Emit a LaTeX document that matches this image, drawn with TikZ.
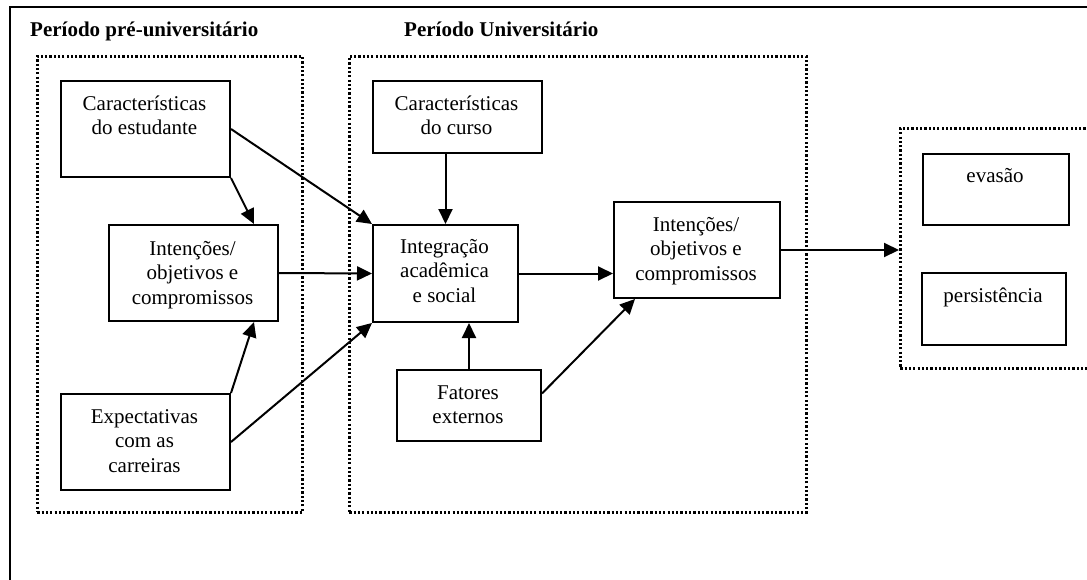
\documentclass[tikz,border=0pt]{standalone}
\usepackage{fontspec}
\setmainfont{Liberation Serif}
\usetikzlibrary{arrows.meta}
\begin{document}
\begin{tikzpicture}[x=1pt,y=-1pt,
 box/.style={draw, line width=2pt, inner sep=0pt, anchor=north west},
 zone/.style={draw, line width=2.6pt, dash pattern=on 2.2pt off 2.1pt, inner sep=0pt, anchor=north west},
 txt/.style={font=\fontsize{21}{24.5}\selectfont, align=center, anchor=base, inner sep=0pt},
 ttl/.style={font=\fontsize{21}{24.5}\selectfont\bfseries, anchor=base west, inner sep=0pt},
 arr/.style={line width=2pt, -{Triangle[length=15pt,width=14pt]}}]
\clip (0,0) rectangle (1087,579);
\fill[white] (0,0) rectangle (1087,579);
\node[draw, line width=2pt, minimum width=1100pt, minimum height=620pt, inner sep=0pt, anchor=north west] (frame) at (9,6) {};
% titles
\node[ttl] (t1) at (30,36) {Período pré-universitário};
\node[ttl] (t2) at (404,36) {Período Universitário};
% zones
\node[zone, minimum width=265pt, minimum height=456pt] (z1) at (36,55) {};
\node[zone, minimum width=457pt, minimum height=456pt] (z2) at (348,55) {};
\node[zone, minimum width=250pt, minimum height=240pt] (z3) at (899,127) {};
% boxes
\node[box, minimum width=169pt, minimum height=96pt] (ce) at (60,80) {};
\node[box, minimum width=169pt, minimum height=96pt] (i1) at (108,224) {};
\node[box, minimum width=169pt, minimum height=96pt] (ex) at (60,393) {};
\node[box, minimum width=169pt, minimum height=72pt] (cc) at (372,80) {};
\node[box, minimum width=145pt, minimum height=97pt] (ia) at (372,224) {};
\node[box, minimum width=144pt, minimum height=71pt] (fa) at (396,369) {};
\node[box, minimum width=166pt, minimum height=96pt] (i2) at (613,201) {};
\node[box, minimum width=146pt, minimum height=71pt] (ev) at (922,153) {};
\node[box, minimum width=144pt, minimum height=72pt] (pe) at (921,272) {};
% texts (anchor base = baseline of last line)
\node[txt] (tce) at (144.5,134.5) {Características\\do estudante};
\node[txt] (ti1) at (192.5,304) {Intenções/\\objetivos e\\compromissos};
\node[txt] (tex) at (144.5,472) {Expectativas\\com as\\carreiras};
\node[txt] (tcc) at (456.5,134.5) {Características\\do curso};
\node[txt] (tia) at (444.5,302) {Integração\\acadêmica\\e social};
\node[txt] (tfa) at (468,423.5) {Fatores\\externos};
\node[txt] (ti2) at (696,280) {Intenções/\\objetivos e\\compromissos};
\node[txt] (tev) at (995,182) {evasão};
\node[txt] (tpe) at (993,302) {persistência};
% arrows
\draw[arr] (ce.east) -- (ia.north west);
\draw[arr] (ce.south east) -- ([xshift=-25pt]i1.north east);
\draw[arr] (i1.east) -- (ia.west);
\draw[arr] (ex.north east) -- ([xshift=-25pt]i1.south east);
\draw[arr] (ex.east) -- (ia.south west);
\draw[arr] (ia.north |- cc.south) -- (ia.north);
\draw[arr] (fa.north) -- (fa.north |- ia.south);
\draw[arr] (ia.east) -- (ia.east -| i2.west);
\draw[arr] ([yshift=12pt]fa.east) -- ([xshift=22pt]i2.south west);
\draw[arr] (i2.east) -- (i2.east -| z3.west);
\end{tikzpicture}
\end{document}
